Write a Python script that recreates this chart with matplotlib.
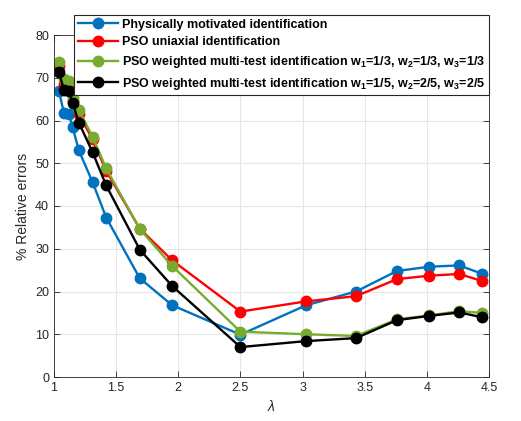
import matplotlib
matplotlib.use('Agg')
import matplotlib.pyplot as plt

plt.rcParams['font.family'] = ['Liberation Sans', 'DejaVu Sans']
plt.rcParams['mathtext.fontset'] = 'custom'
plt.rcParams['mathtext.rm'] = 'Liberation Sans'
plt.rcParams['mathtext.bf'] = 'Liberation Sans:bold'
plt.rcParams['mathtext.it'] = 'Liberation Sans:italic'

# stretch values
lam = [1.04, 1.08, 1.12, 1.15, 1.20, 1.31, 1.42, 1.69, 1.95,
       2.50, 3.03, 3.43, 3.76, 4.02, 4.26, 4.44]

# relative errors (%)
err_phys = [66.8, 61.8, 61.5, 58.4, 53.0, 45.6, 37.3, 23.1, 16.8,
            9.9, 16.8, 20.0, 24.8, 25.8, 26.1, 24.2]
err_uni = [72.7, 68.5, 68.2, 64.5, 61.5, 55.6, 48.2, 34.7, 27.3,
           15.3, 17.7, 18.9, 22.9, 23.7, 24.1, 22.5]
err_w333 = [73.6, 69.8, 69.3, 65.2, 62.5, 56.2, 48.8, 34.6, 26.0,
            10.6, 10.0, 9.6, 13.5, 14.4, 15.4, 15.0]
err_w122 = [71.3, 67.1, 66.8, 64.1, 59.5, 52.6, 44.8, 29.8, 21.3,
            7.0, 8.4, 9.1, 13.3, 14.3, 15.1, 14.0]

labels = [
    'Physically motivated identification',
    'PSO uniaxial identification',
    r'PSO weighted multi-test identification w$_\mathbf{1}$=1/3, w$_\mathbf{2}$=1/3, w$_\mathbf{3}$=1/3',
    r'PSO weighted multi-test identification w$_\mathbf{1}$=1/5, w$_\mathbf{2}$=2/5, w$_\mathbf{3}$=2/5',
]
colors = ['#0072BD', '#FF0000', '#77AC30', '#000000']

fig = plt.figure(figsize=(5.21, 4.21), dpi=100)
ax = fig.add_axes([54/521, 1 - 377/421, 435/521, 342/421])

for y, lab, c in zip([err_phys, err_uni, err_w333, err_w122], labels, colors):
    ax.plot(lam, y, '-o', color=c, lw=1.7, ms=7.5, label=lab)

ax.set_xlim(1, 4.5)
ax.set_ylim(0, 80)
ax.set_xticks([1, 1.5, 2, 2.5, 3, 3.5, 4, 4.5])
ax.set_xticklabels(['1', '1.5', '2', '2.5', '3', '3.5', '4', '4.5'])
ax.set_yticks(range(0, 81, 10))
ax.grid(True, color='#e6e6e6', lw=0.8)
ax.set_axisbelow(True)
ax.tick_params(direction='in', top=True, right=True, labelsize=9,
               colors='#262626', length=4, width=0.6)
for s in ax.spines.values():
    s.set_color('#262626')
    s.set_linewidth(0.6)

ax.set_xlabel(r'$\lambda$', fontsize=10, color='#262626')
ax.set_ylabel('% Relative errors', fontsize=10, color='#262626')

leg = ax.legend(loc='upper left', bbox_to_anchor=(74/521, 1 - 15/421),
                bbox_transform=fig.transFigure, prop={'weight': 'bold', 'size': 9},
                fancybox=False, framealpha=1, edgecolor='#262626',
                borderpad=0.3, labelspacing=0.45, handlelength=3.2,
                handletextpad=0.3, borderaxespad=0)
leg.get_frame().set_linewidth(0.8)

fig.savefig('out.png', dpi=100)
